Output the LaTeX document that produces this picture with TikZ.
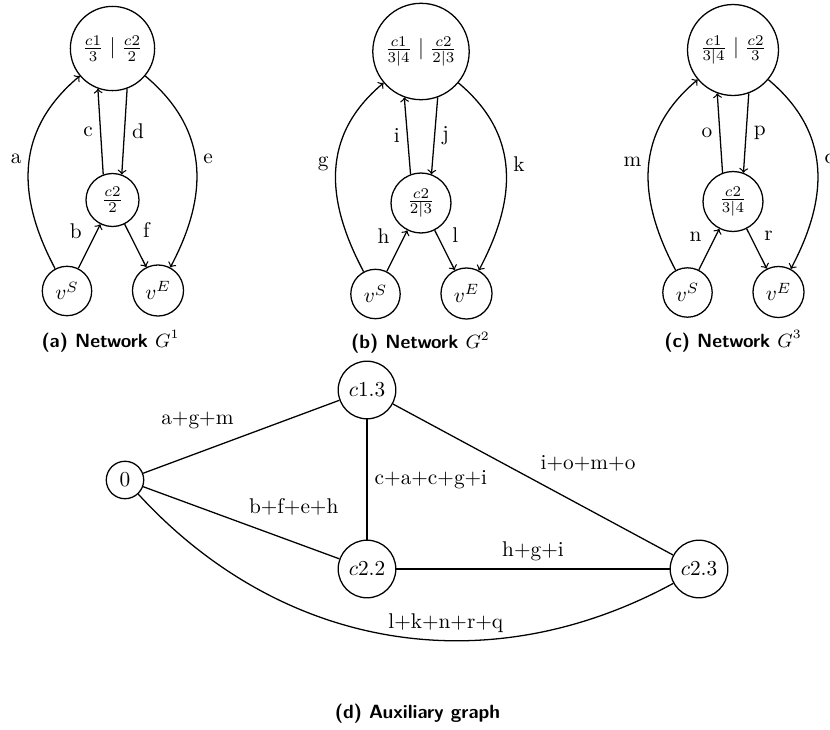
\documentclass[tikz,border=0pt]{standalone}
\usepackage{amsmath}
\usetikzlibrary{positioning}

\begin{document}
\begin{tikzpicture}[
    x=0.4695pt, y=0.4695pt, semithick,
    vertex/.style={circle, draw},
    subcap/.style={font=\small\sffamily\bfseries, anchor=base}
]
    \useasboundingbox (0,0) rectangle (830,729);

    % Networks G^1, G^2, G^3
    \foreach \n/\x/\y/\topt/\midt/\lA/\lB/\lC/\lD/\lE/\lF in {
        1/112.5/529/{$\frac{c1}{3} \mid \frac{c2}{2}$}/{$\frac{c2}{2}$}/a/b/c/d/e/f,
        2/421/526/{$\frac{c1}{3|4} \mid \frac{c2}{2|3}$}/{$\frac{c2}{2|3}$}/g/h/i/j/k/l,
        3/733/527.5/{$\frac{c1}{3|4} \mid \frac{c2}{3}$}/{$\frac{c2}{3|4}$}/m/n/o/p/q/r} {
        \node[vertex] (mid\n) at (\x, \y) {\midt};
        \draw (mid\n) ++(0, 151.5) node[vertex] (top\n) {\topt};
        \draw (mid\n) ++(-45.5, -91) node[vertex] (vs\n) {$v^S$};
        \draw (mid\n) ++(45.5, -90.5) node[vertex] (ve\n) {$v^E$};

        \draw[->] (vs\n) to[out=118, in=220, looseness=1.1] node[pos=.53, left] {\lA} (top\n);
        \draw[->] (vs\n) -- node[above left] {\lB} (mid\n);
        \draw[->] (mid\n.110) -- node[left] {\lC} (top\n.-110);
        \draw[->] (top\n.-70) -- node[right] {\lD} (mid\n.70);
        \draw[->] (top\n) to[out=-40, in=62, looseness=1.1] node[pos=.47, right] {\lE} (ve\n);
        \draw[->] (mid\n) -- node[above right] {\lF} (ve\n);
    }

    \node[subcap] (capa) at (110.5, 382) {(a) Network $G^1$};
    \node[subcap] (capb) at (420.5, 380.5) {(b) Network $G^2$};
    \node[subcap] (capc) at (733, 382) {(c) Network $G^3$};

    % Auxiliary graph
    \node[vertex] (zero) at (125, 249) {$0$};
    \node[vertex] (c13) at (367, 339) {$c1.3$};
    \node[vertex] (c22) at (367, 160) {$c2.2$};
    \node[vertex] (c23) at (699, 160) {$c2.3$};

    \draw (zero) -- node[above left] {a+g+m} (c13);
    \draw (zero) -- node[above right] {b+f+e+h} (c22);
    \draw (c13) -- node[right] {c+a+c+g+i} (c22);
    \draw (c13) -- node[above right] {i+o+m+o} (c23);
    \draw (c22) -- node[above] {h+g+i} (c23);
    \draw (zero) to[bend right=38] node[pos=0.6, above] {l+k+n+r+q} (c23);

    \node[subcap] (capd) at (417.5, 11) {(d) Auxiliary graph};
\end{tikzpicture}
\end{document}
